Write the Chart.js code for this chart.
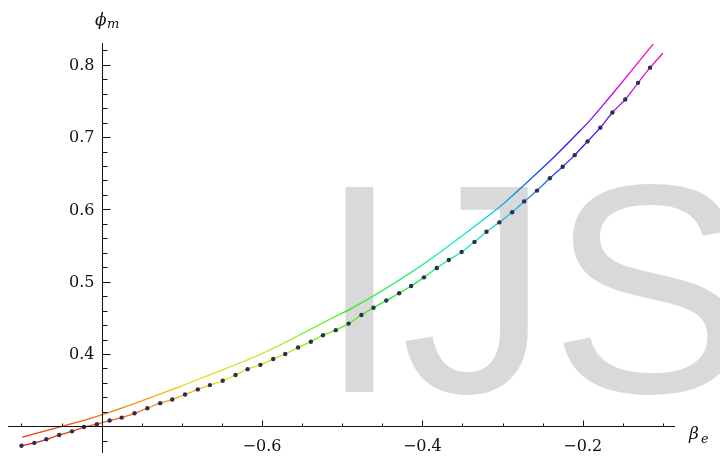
<!DOCTYPE html>
<html>
<head>
<meta charset="utf-8">
<script src="https://cdn.jsdelivr.net/npm/chart.js@4.4.1/dist/chart.umd.min.js"></script>
<style>
  html, body { margin: 0; padding: 0; background: #fff; }
  #wrap { width: 720px; height: 459px; }
</style>
</head>
<body>
<div id="wrap"><canvas id="myChart" width="720" height="459"></canvas></div>
<script>
// lower curve, sample points (dots)
var betaDots = [-0.900, -0.884, -0.869, -0.853, -0.837, -0.822, -0.806, -0.790, -0.775, -0.759,
                -0.743, -0.727, -0.712, -0.696, -0.680, -0.665, -0.649, -0.633, -0.618, -0.602,
                -0.586, -0.571, -0.555, -0.539, -0.524, -0.508, -0.492, -0.476, -0.461, -0.445,
                -0.429, -0.414, -0.398, -0.382, -0.367, -0.351, -0.335, -0.320, -0.304, -0.288,
                -0.273, -0.257, -0.241, -0.225, -0.210, -0.194, -0.178, -0.163, -0.147, -0.131,
                -0.116, -0.100];
var phiDots = [0.273, 0.277, 0.282, 0.288, 0.293, 0.299, 0.303, 0.308, 0.312, 0.318,
               0.325, 0.332, 0.337, 0.344, 0.351, 0.357, 0.363, 0.371, 0.379, 0.385,
               0.393, 0.400, 0.409, 0.417, 0.426, 0.433, 0.442, 0.454, 0.464, 0.474,
               0.484, 0.494, 0.506, 0.519, 0.530, 0.541, 0.555, 0.569, 0.582, 0.596,
               0.611, 0.626, 0.643, 0.659, 0.675, 0.694, 0.713, 0.734, 0.752, 0.775,
               0.796, 0.816];

// upper curve (no dots)
var betaUpper = [-0.899, -0.802, -0.702, -0.677, -0.599, -0.503, -0.490, -0.403, -0.319,
                 -0.303, -0.262, -0.237, -0.203, -0.191, -0.168, -0.153, -0.112];
var phiUpper = [0.285, 0.315, 0.355, 0.366, 0.401, 0.455, 0.462, 0.521, 0.590,
                0.604, 0.645, 0.671, 0.709, 0.723, 0.753, 0.773, 0.829];

// axes
var xMajorTicks = [-0.6, -0.4, -0.2];
var xMinorTicks = [-0.9, -0.85, -0.75, -0.7, -0.65, -0.55, -0.5, -0.45, -0.35, -0.3, -0.25, -0.15, -0.1];
var yMajorTicks = [0.4, 0.5, 0.6, 0.7, 0.8];
var yMinorTicks = [0.28, 0.32, 0.34, 0.36, 0.38, 0.42, 0.44, 0.46, 0.48, 0.52, 0.54, 0.56, 0.58,
                   0.62, 0.64, 0.66, 0.68, 0.72, 0.74, 0.76, 0.78, 0.82];
var axisCross = [-0.8, 0.3];

function toPoints(xs, ys) {
    return xs.map(function(v, i) { return {x: v, y: ys[i]}; });
}

// Hue colouring by height, like Mathematica's ColorFunction
function rainbow(context) {
    var chart = context.chart;
    if (!chart.chartArea) return 'red';
    var ys = chart.scales.y;
    var g = chart.ctx.createLinearGradient(0, ys.getPixelForValue(0.27), 0, ys.getPixelForValue(0.83));
    for (var i = 0; i <= 12; i++) {
        g.addColorStop(i / 12, 'hsl(' + (i / 12 * 330) + ',88%,50%)');
    }
    return g;
}

function fmt(v) {
    var s = Math.abs(v).toFixed(1);
    return v < 0 ? '\u2212' + s : s;
}

var mmaAxes = {
    id: 'mmaAxes',
    beforeDraw: function(chart) {
        var ctx = chart.ctx;
        ctx.save();
        ctx.fillStyle = '#fff';
        ctx.fillRect(0, 0, chart.width, chart.height);
        ctx.restore();
    },
    beforeDatasetsDraw: function(chart) {
        // watermark
        var ctx = chart.ctx;
        ctx.save();
        ctx.fillStyle = '#d9d9d9';
        ctx.font = '298px "Liberation Sans"';
        ctx.textBaseline = 'alphabetic';
        ctx.fillText('IJS', 318, 392);
        ctx.restore();
    },
    afterDatasetsDraw: function(chart) {
        var ctx = chart.ctx, a = chart.chartArea;
        var sx = chart.scales.x, sy = chart.scales.y;
        var ox = Math.round(sx.getPixelForValue(axisCross[0])) + 0.5;
        var oy = Math.round(sy.getPixelForValue(axisCross[1])) + 0.5;
        ctx.save();
        ctx.strokeStyle = '#111';
        ctx.lineWidth = 1;
        ctx.beginPath();
        ctx.moveTo(a.left, oy); ctx.lineTo(a.right, oy);
        ctx.moveTo(ox, a.top); ctx.lineTo(ox, a.bottom - 2);
        xMajorTicks.forEach(function(v) {
            var px = Math.round(sx.getPixelForValue(v)) + 0.5;
            ctx.moveTo(px, oy); ctx.lineTo(px, oy - 6);
        });
        xMinorTicks.forEach(function(v) {
            var px = Math.round(sx.getPixelForValue(v)) + 0.5;
            ctx.moveTo(px, oy); ctx.lineTo(px, oy - 3);
        });
        yMajorTicks.forEach(function(v) {
            var py = Math.round(sy.getPixelForValue(v)) + 0.5;
            ctx.moveTo(ox, py); ctx.lineTo(ox + 8, py);
        });
        yMinorTicks.forEach(function(v) {
            var py = Math.round(sy.getPixelForValue(v)) + 0.5;
            ctx.moveTo(ox, py); ctx.lineTo(ox + 5, py);
        });
        ctx.stroke();

        ctx.fillStyle = '#111';
        ctx.font = '16px "DejaVu Serif"';
        ctx.textAlign = 'center';
        ctx.textBaseline = 'top';
        xMajorTicks.forEach(function(v) {
            ctx.fillText(fmt(v), sx.getPixelForValue(v), oy + 12);
        });
        ctx.textAlign = 'right';
        ctx.textBaseline = 'middle';
        yMajorTicks.forEach(function(v) {
            ctx.fillText(fmt(v), ox - 8, sy.getPixelForValue(v) + 1);
        });

        // axis labels
        ctx.textAlign = 'left';
        ctx.textBaseline = 'alphabetic';
        ctx.font = 'italic 17px "DejaVu Serif"';
        ctx.fillText('\u03d5', 95, 25);
        ctx.font = 'italic 13px "DejaVu Serif"';
        ctx.fillText('m', 107, 28);
        ctx.font = 'italic 17px "DejaVu Serif"';
        ctx.fillText('\u03b2', 689, 439);
        ctx.font = 'italic 13px "DejaVu Serif"';
        ctx.fillText('e', 701, 443);
        ctx.restore();
    }
};

var ctx = document.getElementById('myChart').getContext('2d');
var chart = new Chart(ctx, {
    type: 'scatter',
    data: {
        datasets: [{
            data: toPoints(betaUpper, phiUpper),
            showLine: true,
            borderColor: rainbow,
            borderWidth: 1.3,
            pointRadius: 0,
            cubicInterpolationMode: 'monotone'
        }, {
            data: toPoints(betaDots, phiDots),
            showLine: true,
            borderColor: rainbow,
            borderWidth: 1.3,
            pointRadius: function(c) { return c.dataIndex === betaDots.length - 1 ? 0 : 2.2; },
            pointBackgroundColor: '#2e2e50',
            pointBorderWidth: 0,
            cubicInterpolationMode: 'monotone'
        }]
    },
    options: {
        responsive: false,
        animation: false,
        layout: { padding: { left: 8, right: 45, top: 43, bottom: 0 } },
        scales: {
            x: { type: 'linear', display: false, min: -0.9168, max: -0.0849 },
            y: { type: 'linear', display: false, min: 0.2603, max: 0.8301 }
        },
        plugins: {
            legend: { display: false },
            tooltip: { enabled: false }
        }
    },
    plugins: [mmaAxes]
});
</script>
</body>
</html>
